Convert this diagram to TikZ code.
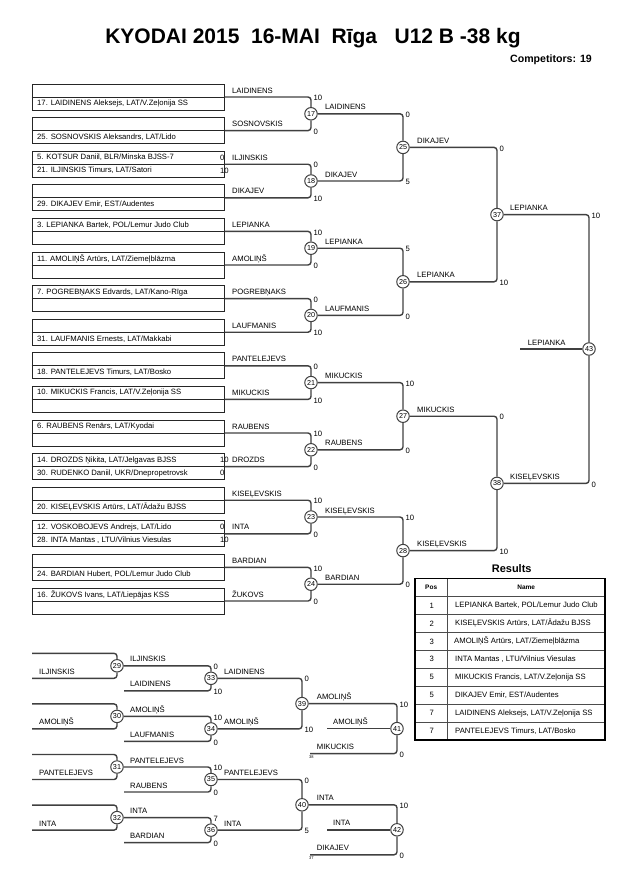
\documentclass[tikz,border=0pt]{standalone}
\usepackage{fontspec}
\setmainfont{Liberation Sans}
\usepackage{tikz}
\usetikzlibrary{positioning}
\tikzset{
  entrybox/.style={draw=cbox,line width=1pt,minimum width=192pt,minimum height=26pt,inner sep=0pt},
  entry/.style={anchor=west,inner sep=0pt,font=\fontsize{7.7}{9}\selectfont},
  pname/.style={anchor=base west,inner sep=0pt,font=\fontsize{7.7}{9}\selectfont},
  score/.style={anchor=west,inner sep=0pt,font=\fontsize{7.7}{9}\selectfont},
  tiny/.style={anchor=north west,inner sep=0pt,font=\fontsize{4}{5}\selectfont},
  match/.style={circle,draw=cline,line width=1pt,fill=white,minimum size=12.5pt,inner sep=0pt,font=\fontsize{7.2}{8}\selectfont},
  bracket/.style={draw=cline,line width=1.4pt,rounded corners=3pt},
  tabouter/.style={draw=black,line width=1.6pt},
  tabinner/.style={draw=ctab,line width=0.8pt},
}
\begin{document}
\begin{tikzpicture}[x=1pt,y=-1pt]
%
\useasboundingbox (0,0) rectangle (630,891);
%
\definecolor{cline}{rgb}{0.25,0.25,0.25}
\definecolor{cbox}{rgb}{0.15,0.15,0.15}
\definecolor{ctab}{rgb}{0.3,0.3,0.3}
%
\node[inner sep=0pt,font=\fontsize{21}{24}\bfseries] (title) at (313,38) {KYODAI 2015~~16-MAI~~Rīga~~~U12 B -38 kg};
\node[anchor=east,inner sep=0pt,font=\fontsize{10.6}{12}\bfseries] (comp) at (592,60) {Competitors: 19};
%
\node[entrybox] (b1) at (128,97.0) {};
\node[entrybox] (b2) at (128,130.6) {};
\node[entrybox] (b3) at (128,164.2) {};
\node[entrybox] (b4) at (128,197.8) {};
\node[entrybox] (b5) at (128,231.4) {};
\node[entrybox] (b6) at (128,265.0) {};
\node[entrybox] (b7) at (128,298.6) {};
\node[entrybox] (b8) at (128,332.2) {};
\node[entrybox] (b9) at (128,365.8) {};
\node[entrybox] (b10) at (128,399.4) {};
\node[entrybox] (b11) at (128,433.0) {};
\node[entrybox] (b12) at (128,466.6) {};
\node[entrybox] (b13) at (128,500.2) {};
\node[entrybox] (b14) at (128,533.8) {};
\node[entrybox] (b15) at (128,567.4) {};
\node[entrybox] (b16) at (128,601.0) {};
%
\draw[draw=cbox,line width=1pt] (b1.west) -- (b1.east) (b2.west) -- (b2.east) (b3.west) -- (b3.east) (b4.west) -- (b4.east);
\draw[draw=cbox,line width=1pt] (b5.west) -- (b5.east) (b6.west) -- (b6.east) (b7.west) -- (b7.east) (b8.west) -- (b8.east);
\draw[draw=cbox,line width=1pt] (b9.west) -- (b9.east) (b10.west) -- (b10.east) (b11.west) -- (b11.east) (b12.west) -- (b12.east);
\draw[draw=cbox,line width=1pt] (b13.west) -- (b13.east) (b14.west) -- (b14.east) (b15.west) -- (b15.east) (b16.west) -- (b16.east);
%
\node[entry] (p17) at (37,103.5) {17. LAIDINENS Aleksejs, LAT/V.Zeļonija SS};
\node[entry] (p25) at (37,137.1) {25. SOSNOVSKIS Aleksandrs, LAT/Lido};
\node[entry] (p5) at (37,157.7) {5. KOTSUR Daniil, BLR/Minska BJSS-7};
\node[entry] (p21) at (37,170.7) {21. ILJINSKIS Timurs, LAT/Satori};
\node[entry] (p29) at (37,204.3) {29. DIKAJEV Emir, EST/Audentes};
\node[entry] (p3) at (37,224.9) {3. LEPIANKA Bartek, POL/Lemur Judo Club};
\node[entry] (p11) at (37,258.5) {11. AMOLIŅŠ Artūrs, LAT/Ziemeļblāzma};
\node[entry] (p7) at (37,292.1) {7. POGREBŅAKS Edvards, LAT/Kano-Rīga};
\node[entry] (p31) at (37,338.7) {31. LAUFMANIS Ernests, LAT/Makkabi};
\node[entry] (p18) at (37,372.3) {18. PANTELEJEVS Timurs, LAT/Bosko};
\node[entry] (p10) at (37,392.9) {10. MIKUCKIS Francis, LAT/V.Zeļonija SS};
\node[entry] (p6) at (37,426.5) {6. RAUBENS Renārs, LAT/Kyodai};
\node[entry] (p14) at (37,460.1) {14. DROZDS Ņikita, LAT/Jelgavas BJSS};
\node[entry] (p30) at (37,473.1) {30. RUDENKO Daniil, UKR/Dnepropetrovsk};
\node[entry] (p20) at (37,506.7) {20. KISEĻEVSKIS Artūrs, LAT/Ādažu BJSS};
\node[entry] (p12) at (37,527.3) {12. VOSKOBOJEVS Andrejs, LAT/Lido};
\node[entry] (p28) at (37,540.3) {28. INTA Mantas , LTU/Vilnius Viesulas};
\node[entry] (p24) at (37,573.9) {24. BARDIAN Hubert, POL/Lemur Judo Club};
\node[entry] (p16) at (37,594.5) {16. ŽUKOVS Ivans, LAT/Liepājas KSS};
%
\node[score] (q5) at (220,157.7) {0};
\node[score] (q21) at (220,170.7) {10};
\node[score] (q14) at (220,460.1) {10};
\node[score] (q30) at (220,473.1) {0};
\node[score] (q12) at (220,527.3) {0};
\node[score] (q28) at (220,540.3) {10};
%
\node[pname] (w1) at (232,93.0) {LAIDINENS};
\node[pname] (w2) at (232,126.6) {SOSNOVSKIS};
\node[pname] (w3) at (232,160.2) {ILJINSKIS};
\node[pname] (w4) at (232,193.8) {DIKAJEV};
\node[pname] (w5) at (232,227.4) {LEPIANKA};
\node[pname] (w6) at (232,261.0) {AMOLIŅŠ};
\node[pname] (w7) at (232,294.6) {POGREBŅAKS};
\node[pname] (w8) at (232,328.2) {LAUFMANIS};
\node[pname] (w9) at (232,361.8) {PANTELEJEVS};
\node[pname] (w10) at (232,395.4) {MIKUCKIS};
\node[pname] (w11) at (232,429.0) {RAUBENS};
\node[pname] (w12) at (232,462.6) {DROZDS};
\node[pname] (w13) at (232,496.2) {KISEĻEVSKIS};
\node[pname] (w14) at (232,529.8) {INTA};
\node[pname] (w15) at (232,563.4) {BARDIAN};
\node[pname] (w16) at (232,597.0) {ŽUKOVS};
%
\node[match] (m17) at (311,113.8) {17};
\node[match] (m18) at (311,181.0) {18};
\node[match] (m19) at (311,248.2) {19};
\node[match] (m20) at (311,315.4) {20};
\node[match] (m21) at (311,382.6) {21};
\node[match] (m22) at (311,449.8) {22};
\node[match] (m23) at (311,517.0) {23};
\node[match] (m24) at (311,584.2) {24};
\node[match] (m25) at (403,147.4) {25};
\node[match] (m26) at (403,281.8) {26};
\node[match] (m27) at (403,416.2) {27};
\node[match] (m28) at (403,550.6) {28};
\node[match] (m37) at (497,214.6) {37};
\node[match] (m38) at (497,483.4) {38};
\node[match] (m43) at (589,349.0) {43};
\coordinate (fin) at (520,349.0);
%
\draw[bracket] (b1.east) -| (m17);
\draw[bracket] (b2.east) -| (m17);
\draw[bracket] (b3.east) -| (m18);
\draw[bracket] (b4.east) -| (m18);
\draw[bracket] (b5.east) -| (m19);
\draw[bracket] (b6.east) -| (m19);
\draw[bracket] (b7.east) -| (m20);
\draw[bracket] (b8.east) -| (m20);
\draw[bracket] (b9.east) -| (m21);
\draw[bracket] (b10.east) -| (m21);
\draw[bracket] (b11.east) -| (m22);
\draw[bracket] (b12.east) -| (m22);
\draw[bracket] (b13.east) -| (m23);
\draw[bracket] (b14.east) -| (m23);
\draw[bracket] (b15.east) -| (m24);
\draw[bracket] (b16.east) -| (m24);
\draw[bracket] (m17) -| (m25);
\draw[bracket] (m18) -| (m25);
\draw[bracket] (m19) -| (m26);
\draw[bracket] (m20) -| (m26);
\draw[bracket] (m21) -| (m27);
\draw[bracket] (m22) -| (m27);
\draw[bracket] (m23) -| (m28);
\draw[bracket] (m24) -| (m28);
\draw[bracket] (m25) -| (m37);
\draw[bracket] (m26) -| (m37);
\draw[bracket] (m27) -| (m38);
\draw[bracket] (m28) -| (m38);
\draw[bracket] (m37) -| (m43);
\draw[bracket] (m38) -| (m43);
\draw[bracket] (fin) -- (m43);
%
\node[pname] (w17) at (325,109.8) {LAIDINENS};
\node[pname] (w18) at (325,177.0) {DIKAJEV};
\node[pname] (w19) at (325,244.2) {LEPIANKA};
\node[pname] (w20) at (325,311.4) {LAUFMANIS};
\node[pname] (w21) at (325,378.6) {MIKUCKIS};
\node[pname] (w22) at (325,445.8) {RAUBENS};
\node[pname] (w23) at (325,513.0) {KISEĻEVSKIS};
\node[pname] (w24) at (325,580.2) {BARDIAN};
\node[pname] (w25) at (417,143.4) {DIKAJEV};
\node[pname] (w26) at (417,277.8) {LEPIANKA};
\node[pname] (w27) at (417,412.2) {MIKUCKIS};
\node[pname] (w28) at (417,546.6) {KISEĻEVSKIS};
\node[pname] (w37) at (510,210.6) {LEPIANKA};
\node[pname] (w38) at (510,479.4) {KISEĻEVSKIS};
\node[pname] (w43) at (527.7,345.0) {LEPIANKA};
%
\node[score] (s17a) at (313.5,98.0) {10};
\node[score] (s17b) at (313.5,131.6) {0};
\node[score] (s18a) at (313.5,165.2) {0};
\node[score] (s18b) at (313.5,198.8) {10};
\node[score] (s19a) at (313.5,232.4) {10};
\node[score] (s19b) at (313.5,266.0) {0};
\node[score] (s20a) at (313.5,299.6) {0};
\node[score] (s20b) at (313.5,333.2) {10};
\node[score] (s21a) at (313.5,366.8) {0};
\node[score] (s21b) at (313.5,400.4) {10};
\node[score] (s22a) at (313.5,434.0) {10};
\node[score] (s22b) at (313.5,467.6) {0};
\node[score] (s23a) at (313.5,501.2) {10};
\node[score] (s23b) at (313.5,534.8) {0};
\node[score] (s24a) at (313.5,568.4) {10};
\node[score] (s24b) at (313.5,602.0) {0};
\node[score] (s25a) at (405.5,114.8) {0};
\node[score] (s25b) at (405.5,182.0) {5};
\node[score] (s26a) at (405.5,249.2) {5};
\node[score] (s26b) at (405.5,316.4) {0};
\node[score] (s27a) at (405.5,383.6) {10};
\node[score] (s27b) at (405.5,450.8) {0};
\node[score] (s28a) at (405.5,518.0) {10};
\node[score] (s28b) at (405.5,585.2) {0};
\node[score] (s37a) at (499.5,148.4) {0};
\node[score] (s37b) at (499.5,282.8) {10};
\node[score] (s38a) at (499.5,417.2) {0};
\node[score] (s38b) at (499.5,551.6) {10};
\node[score] (s43a) at (591.5,215.6) {10};
\node[score] (s43b) at (591.5,484.4) {0};
%
\coordinate (r29a) at (32,653.3);
\coordinate (r29b) at (32,678.3);
\coordinate (r30a) at (32,703.9);
\coordinate (r30b) at (32,728.9);
\coordinate (r31a) at (32,754.5);
\coordinate (r31b) at (32,779.5);
\coordinate (r32a) at (32,805.1);
\coordinate (r32b) at (32,830.1);
\coordinate (r33) at (124,690.8);
\coordinate (r34) at (124,741.4);
\coordinate (r35) at (124,792.0);
\coordinate (r36) at (124,842.6);
\coordinate (r41b) at (310,753.6);
\coordinate (r42b) at (310,854.8);
\coordinate (r41f) at (327,728.6);
\coordinate (r42f) at (327,829.8);
%
\node[match] (m29) at (117,665.8) {29};
\node[match] (m30) at (117,716.4) {30};
\node[match] (m31) at (117,767.0) {31};
\node[match] (m32) at (117,817.6) {32};
\node[match] (m33) at (211,678.3) {33};
\node[match] (m34) at (211,728.9) {34};
\node[match] (m35) at (211,779.5) {35};
\node[match] (m36) at (211,830.1) {36};
\node[match] (m39) at (302,703.6) {39};
\node[match] (m40) at (302,804.8) {40};
\node[match] (m41) at (397,728.6) {41};
\node[match] (m42) at (397,829.8) {42};
%
\draw[bracket] (r29a) -| (m29);
\draw[bracket] (r29b) -| (m29);
\draw[bracket] (r30a) -| (m30);
\draw[bracket] (r30b) -| (m30);
\draw[bracket] (r31a) -| (m31);
\draw[bracket] (r31b) -| (m31);
\draw[bracket] (r32a) -| (m32);
\draw[bracket] (r32b) -| (m32);
\draw[bracket] (m29) -| (m33);
\draw[bracket] (r33) -| (m33);
\draw[bracket] (m30) -| (m34);
\draw[bracket] (r34) -| (m34);
\draw[bracket] (m31) -| (m35);
\draw[bracket] (r35) -| (m35);
\draw[bracket] (m32) -| (m36);
\draw[bracket] (r36) -| (m36);
\draw[bracket] (m33) -| (m39);
\draw[bracket] (m34) -| (m39);
\draw[bracket] (m35) -| (m40);
\draw[bracket] (m36) -| (m40);
\draw[bracket] (m39) -| (m41);
\draw[bracket] (r41b) -| (m41);
\draw[bracket] (m40) -| (m42);
\draw[bracket] (r42b) -| (m42);
\draw[bracket] (r41f) -- (m41);
\draw[bracket] (r42f) -- (m42);
%
\node[pname] (v29) at (39,674.3) {ILJINSKIS};
\node[pname] (v30) at (39,724.9) {AMOLIŅŠ};
\node[pname] (v31) at (39,775.5) {PANTELEJEVS};
\node[pname] (v32) at (39,826.1) {INTA};
\node[pname] (v33a) at (130,661.8) {ILJINSKIS};
\node[pname] (v33b) at (130,686.8) {LAIDINENS};
\node[pname] (v34a) at (130,712.4) {AMOLIŅŠ};
\node[pname] (v34b) at (130,737.4) {LAUFMANIS};
\node[pname] (v35a) at (130,763.0) {PANTELEJEVS};
\node[pname] (v35b) at (130,788.0) {RAUBENS};
\node[pname] (v36a) at (130,813.6) {INTA};
\node[pname] (v36b) at (130,838.6) {BARDIAN};
\node[pname] (v39a) at (224,674.3) {LAIDINENS};
\node[pname] (v39b) at (224,724.9) {AMOLIŅŠ};
\node[pname] (v40a) at (224,775.5) {PANTELEJEVS};
\node[pname] (v40b) at (224,826.1) {INTA};
\node[pname] (v41a) at (316.7,699.6) {AMOLIŅŠ};
\node[pname] (v41b) at (316.7,749.6) {MIKUCKIS};
\node[pname] (v41f) at (333,724.6) {AMOLIŅŠ};
\node[pname] (v42a) at (316.7,800.8) {INTA};
\node[pname] (v42b) at (316.7,850.8) {DIKAJEV};
\node[pname] (v42f) at (333,825.8) {INTA};
\node[tiny] (t38) at (309,755.6) {38};
\node[tiny] (t37) at (309,856.8) {37};
%
\node[score] (s33a) at (213.5,666.8) {0};
\node[score] (s33b) at (213.5,691.8) {10};
\node[score] (s34a) at (213.5,717.4) {10};
\node[score] (s34b) at (213.5,742.4) {0};
\node[score] (s35a) at (213.5,768.0) {10};
\node[score] (s35b) at (213.5,793.0) {0};
\node[score] (s36a) at (213.5,818.6) {7};
\node[score] (s36b) at (213.5,843.6) {0};
\node[score] (s39a) at (304.5,679.3) {0};
\node[score] (s39b) at (304.5,729.9) {10};
\node[score] (s40a) at (304.5,780.5) {0};
\node[score] (s40b) at (304.5,831.1) {5};
\node[score] (s41a) at (399.5,704.6) {10};
\node[score] (s41b) at (399.5,754.6) {0};
\node[score] (s42a) at (399.5,805.8) {10};
\node[score] (s42b) at (399.5,855.8) {0};
%
\node[inner sep=0pt,font=\fontsize{11}{13}\bfseries] (res) at (511.7,568.3) {Results};
\draw[tabinner] (415,596.5) -- (605,596.5);
\draw[tabinner] (415,614.4) -- (605,614.4) (415,632.4) -- (605,632.4) (415,650.3) -- (605,650.3) (415,668.3) -- (605,668.3);
\draw[tabinner] (415,686.2) -- (605,686.2) (415,704.1) -- (605,704.1) (415,722.1) -- (605,722.1);
\draw[tabinner] (447.3,578.3) -- (447.3,740);
\draw[tabouter] (415,578.3) rectangle (605,740);
\node[inner sep=0pt,font=\fontsize{6.5}{8}\bfseries] (hpos) at (431.2,587.4) {Pos};
\node[inner sep=0pt,font=\fontsize{6.5}{8}\bfseries] (hname) at (526.2,587.4) {Name};
\node[inner sep=0pt,font=\fontsize{7.7}{9}\selectfont] (pos1) at (431.7,605.5) {1};
\node[inner sep=0pt,font=\fontsize{7.7}{9}\selectfont] (pos2) at (431.7,623.4) {2};
\node[inner sep=0pt,font=\fontsize{7.7}{9}\selectfont] (pos3) at (431.7,641.4) {3};
\node[inner sep=0pt,font=\fontsize{7.7}{9}\selectfont] (pos4) at (431.7,659.3) {3};
\node[inner sep=0pt,font=\fontsize{7.7}{9}\selectfont] (pos5) at (431.7,677.3) {5};
\node[inner sep=0pt,font=\fontsize{7.7}{9}\selectfont] (pos6) at (431.7,695.2) {5};
\node[inner sep=0pt,font=\fontsize{7.7}{9}\selectfont] (pos7) at (431.7,713.1) {7};
\node[inner sep=0pt,font=\fontsize{7.7}{9}\selectfont] (pos8) at (431.7,731.1) {7};
\node[entry] (nm1) at (455,605.5) {LEPIANKA Bartek, POL/Lemur Judo Club};
\node[entry] (nm2) at (455,623.4) {KISEĻEVSKIS Artūrs, LAT/Ādažu BJSS};
\node[entry] (nm3) at (454,641.4) {AMOLIŅŠ Artūrs, LAT/Ziemeļblāzma};
\node[entry] (nm4) at (455,659.3) {INTA Mantas , LTU/Vilnius Viesulas};
\node[entry] (nm5) at (455,677.3) {MIKUCKIS Francis, LAT/V.Zeļonija SS};
\node[entry] (nm6) at (455,695.2) {DIKAJEV Emir, EST/Audentes};
\node[entry] (nm7) at (455,713.1) {LAIDINENS Aleksejs, LAT/V.Zeļonija SS};
\node[entry] (nm8) at (455,731.1) {PANTELEJEVS Timurs, LAT/Bosko};
%
\end{tikzpicture}
\end{document}
